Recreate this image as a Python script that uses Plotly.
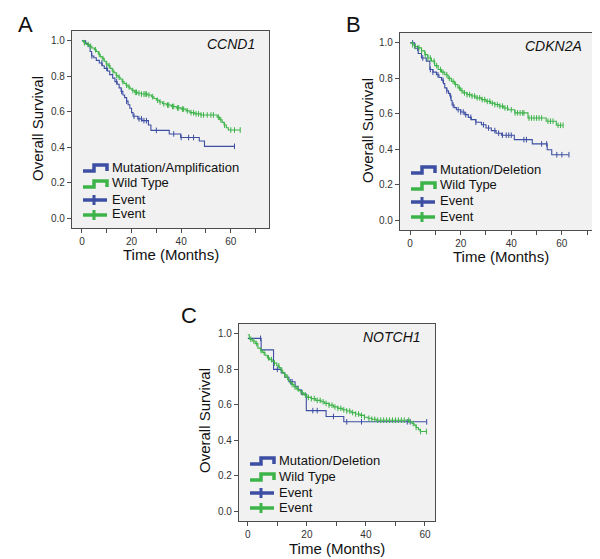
import plotly.graph_objects as go

# ---------------- DATA ----------------
# Panel A: CCND1
a_mut_t = [0, 1.5, 2.5, 3.3, 3.9, 4.8, 5.8, 7.0, 8.2, 9.0, 10.3, 11.2, 12.4, 13.3, 14.2, 15.0, 15.8, 16.5,
           17.2, 18.0, 18.6, 19.3, 20.0, 20.6, 22.5, 24.2, 26.8, 27.8, 35.2, 39.8, 47.3, 49.4, 61.5]
a_mut_s = [1.0, 0.985, 0.97, 0.94, 0.915, 0.905, 0.89, 0.875, 0.86, 0.845, 0.83, 0.81, 0.79, 0.77, 0.755, 0.735,
           0.715, 0.695, 0.68, 0.66, 0.64, 0.62, 0.595, 0.575, 0.56, 0.55, 0.525, 0.495, 0.475, 0.455, 0.435, 0.405, 0.405]
a_mut_cens = [4, 8, 10, 14, 16, 18, 21, 23, 24, 25, 26, 30, 37, 40, 43, 45, 61.5]
a_wt_t = [0, 0.8, 1.8, 3.0, 4.0, 5.0, 5.8, 6.6, 7.4, 8.2, 9.0, 9.8, 10.6, 11.4, 12.2, 13.0, 13.8, 14.6, 15.4,
          16.2, 17.0, 17.8, 18.6, 19.4, 20.2, 21.2, 22.5, 24.0, 26.5, 28.0, 29.0, 30.0, 31.2, 32.5, 34.0, 36.0,
          38.0, 40.0, 42.0, 43.5, 45.5, 48.0, 54.5, 55.5, 56.5, 57.3, 58.2, 59.0, 63.8]
a_wt_s = [1.0, 0.99, 0.98, 0.97, 0.96, 0.95, 0.94, 0.925, 0.91, 0.9, 0.885, 0.87, 0.86, 0.845, 0.83, 0.82, 0.805,
          0.795, 0.785, 0.77, 0.76, 0.75, 0.74, 0.73, 0.72, 0.71, 0.705, 0.7, 0.695, 0.685, 0.675, 0.665, 0.655,
          0.645, 0.638, 0.63, 0.622, 0.615, 0.605, 0.595, 0.588, 0.582, 0.57, 0.555, 0.54, 0.525, 0.51, 0.497, 0.497]
a_wt_cens = [1, 2.5, 3.5, 5.5, 7, 8.5, 10, 11, 12.5, 14, 15, 16.5, 18, 19, 20.5, 21.5, 22, 23, 24, 25, 25.5, 26,
             27, 28.5, 30.5, 31.5, 33, 34.5, 35, 36.5, 37, 38.5, 39, 40.5, 41, 42.5, 44, 45, 46, 47, 48, 49, 50.5,
             52, 53, 55, 56, 57.5, 60, 61.5, 63.8]

# Panel B: CDKN2A
b_mut_t = [0, 1.8, 3.2, 4.5, 6.4, 7.8, 9.0, 10.4, 11.4, 12.4, 13.2, 13.7, 14.5, 15.2, 15.7, 16.2, 16.6, 17.4,
           18.3, 20.0, 21.6, 23.0, 24.2, 26.0, 28.2, 30.0, 32.1, 34.0, 36.1, 41.2, 48.3, 54.2, 56.0, 62.8]
b_mut_s = [1.0, 0.97, 0.94, 0.915, 0.897, 0.85, 0.835, 0.82, 0.805, 0.79, 0.77, 0.746, 0.73, 0.715, 0.70, 0.675,
           0.65, 0.635, 0.623, 0.61, 0.595, 0.58, 0.567, 0.552, 0.538, 0.52, 0.505, 0.49, 0.479, 0.454, 0.43, 0.397,
           0.369, 0.369]
b_mut_cens = [1, 3, 5, 8, 9, 11, 13, 14.5, 16, 17, 19, 20, 21, 22, 24, 26, 29, 31, 33.5, 35, 36.5, 38, 39, 40,
              45, 46, 52, 54, 58, 60, 62.8]
b_wt_t = [0, 1.0, 2.0, 3.2, 4.5, 5.8, 7.0, 8.4, 9.7, 11.1, 12.4, 13.7, 15.0, 16.3, 17.6, 18.9, 20.0, 20.9, 22.5,
          24.2, 26.0, 28.2, 30.0, 31.8, 33.5, 35.2, 37.0, 38.7, 41.4, 46.6, 53.8, 57.8, 60.5]
b_wt_s = [1.0, 0.99, 0.98, 0.972, 0.955, 0.934, 0.915, 0.897, 0.872, 0.85, 0.835, 0.82, 0.8, 0.783, 0.765, 0.746,
          0.73, 0.718, 0.708, 0.70, 0.69, 0.68, 0.67, 0.66, 0.652, 0.643, 0.633, 0.623, 0.605, 0.576, 0.558, 0.535,
          0.535]
b_wt_cens = [1, 2, 3.5, 4.5, 6, 7, 8, 9.5, 10.5, 12, 13, 14.5, 15.5, 17, 18, 19.5, 20.5, 21.5, 22.5, 23.5, 24.5,
             25.5, 26.5, 27.5, 28.5, 29.5, 30.5, 31.5, 32.5, 33.5, 34.5, 35.5, 36.5, 37.5, 38.5, 40, 41.5, 42.5,
             43.5, 44.5, 45, 47, 48, 49, 50, 51, 52, 54.5, 55.5, 56.5, 58.5, 59.5, 60.5]

# Panel C: NOTCH1
c_mut_t = [0, 4.5, 8.7, 11.3, 12.5, 13.9, 16.0, 17.0, 18.1, 19.8, 26.5, 32.5, 60.6]
c_mut_s = [0.975, 0.91, 0.80, 0.78, 0.755, 0.73, 0.705, 0.685, 0.66, 0.567, 0.534, 0.504, 0.504]
c_mut_cens = [4.3, 10, 14.5, 15, 22, 23.5, 29, 33.5, 38.5, 54, 55, 60.6]
c_wt_t = [0, 0.5, 1.5, 2.5, 3.4, 4.3, 5.0, 5.8, 6.6, 7.4, 8.2, 9.0, 9.8, 10.6, 11.2, 11.8, 12.4, 13.0, 13.6,
          14.2, 14.8, 15.6, 16.4, 17.2, 18.0, 19.0, 20.0, 21.5, 23.0, 24.8, 26.0, 27.5, 29.0, 30.5, 32.0, 33.5,
          35.0, 36.5, 38.0, 39.5, 40.7, 42.0, 43.5, 54.8, 55.6, 56.3, 57.0, 57.8, 58.4, 60.5]
c_wt_s = [0.995, 0.97, 0.96, 0.945, 0.92, 0.905, 0.895, 0.88, 0.865, 0.855, 0.845, 0.835, 0.82, 0.81, 0.795,
          0.78, 0.77, 0.755, 0.74, 0.725, 0.715, 0.7, 0.69, 0.68, 0.668, 0.655, 0.642, 0.635, 0.625, 0.617, 0.608,
          0.598, 0.588, 0.58, 0.572, 0.565, 0.556, 0.548, 0.54, 0.53, 0.524, 0.518, 0.513, 0.505, 0.494, 0.485,
          0.472, 0.46, 0.449, 0.449]
c_wt_cens = [1, 2, 3, 4.5, 5.5, 7, 8, 9, 10.5, 11.5, 12.5, 13.5, 15, 16, 17, 18.5, 19.5, 20.5, 21.5, 22.5, 23.5,
             24.5, 25.5, 26.5, 27.5, 28.5, 29.5, 30.5, 31.5, 32.5, 33.5, 34.5, 35.5, 36.5, 37.5, 38.5, 39.5, 41,
             42, 43, 44, 45, 46, 47, 48, 49, 50, 51, 52, 53, 54.5, 56, 57, 58.5, 60.5]

panel_letters = ["A", "B", "C"]
gene_names = ["CCND1", "CDKN2A", "NOTCH1"]
mut_labels = ["Mutation/Amplification", "Mutation/Deletion", "Mutation/Deletion"]
wt_label = "Wild Type"
event_label = "Event"
y_tick_vals = [0.0, 0.2, 0.4, 0.6, 0.8, 1.0]
y_tick_text = ["0.0", "0.2", "0.4", "0.6", "0.8", "1.0"]
x_title = "Time (Months)"
y_title = "Overall Survival"

# ---------------- STYLE / LAYOUT ----------------
W, H = 600, 559
BLUE = "#3d4fa3"
GREEN = "#3db449"
FONT = "Liberation Sans, Arial, sans-serif"

# plot boxes in pixels: (left, top, right, bottom), x range
boxes = [
    dict(l=64, t=23, r=261, b=220, xr=[-4.0, 75.4], xticks=[0, 10, 20, 30, 40, 50, 60, 70]),
    dict(l=392, t=25, r=588, b=222, xr=[-4.0, 73.5], xticks=[0, 10, 20, 30, 40, 50, 60, 70]),
    dict(l=231, t=316, r=427, b=513, xr=[-3.0, 63.4], xticks=[0, 10, 20, 30, 40, 50, 60]),
]
letter_pos = [(17, 17), (345, 17), (181, 307)]
ytitle_pos = [(30, 121), (359, 123), (196, 413)]
xtitle_pos = [(163, 246), (493, 249), (329, 540)]

def px(x):
    return x / W

def py(y):
    return 1 - y / H

def surv_at(ts, ss, c):
    val = ss[0]
    for t, s in zip(ts, ss):
        if t <= c:
            val = s
    return val

panels = [
    (a_mut_t, a_mut_s, a_mut_cens, a_wt_t, a_wt_s, a_wt_cens),
    (b_mut_t, b_mut_s, b_mut_cens, b_wt_t, b_wt_s, b_wt_cens),
    (c_mut_t, c_mut_s, c_mut_cens, c_wt_t, c_wt_s, c_wt_cens),
]

fig = go.Figure()
annotations = []
shapes = []

for i, (mt, ms, mc, wt, ws, wc) in enumerate(panels):
    bx = boxes[i]
    xa = "x" if i == 0 else f"x{i+1}"
    ya = "y" if i == 0 else f"y{i+1}"
    for (tt, ss, cc, col) in [(mt, ms, mc, BLUE), (wt, ws, wc, GREEN)]:
        fig.add_trace(go.Scatter(x=tt, y=ss, mode="lines", line=dict(color=col, width=1.1, shape="hv"),
                                 xaxis=xa, yaxis=ya, showlegend=False, hoverinfo="skip"))
        fig.add_trace(go.Scatter(x=cc, y=[surv_at(tt, ss, c) for c in cc], mode="markers",
                                 marker=dict(symbol="line-ns", size=4, line=dict(color=col, width=1)),
                                 xaxis=xa, yaxis=ya, showlegend=False, hoverinfo="skip"))
    axis_common = dict(showline=True, linecolor="#4d4d4d", linewidth=1.3, mirror=True, ticks="outside",
                       ticklen=4, tickcolor="#4d4d4d", tickwidth=1, showgrid=False, zeroline=False,
                       tickfont=dict(family=FONT, size=10, color="#333333"))
    xkey = "xaxis" if i == 0 else f"xaxis{i+1}"
    ykey = "yaxis" if i == 0 else f"yaxis{i+1}"
    fig.update_layout(**{
        xkey: dict(domain=[px(bx["l"]), px(bx["r"])], range=bx["xr"], anchor=ya,
                   tickmode="array", tickvals=bx["xticks"],
                   ticktext=[str(v) if v % 20 == 0 else "" for v in bx["xticks"]], **axis_common),
        ykey: dict(domain=[py(bx["b"]), py(bx["t"])], range=[-0.056, 1.056], anchor=xa,
                   tickmode="array", tickvals=y_tick_vals, ticktext=y_tick_text, **axis_common),
    })

    # panel letter
    lx, ly = letter_pos[i]
    annotations.append(dict(text=panel_letters[i], x=px(lx), y=py(ly), xref="paper", yref="paper",
                            showarrow=False, font=dict(family=FONT, size=22, color="#111111"),
                            xanchor="center", yanchor="middle"))
    # gene label
    annotations.append(dict(text=f"<i>{gene_names[i]}</i>", x=px(bx["r"] - 12), y=py(bx["t"] + 13),
                            xref="paper", yref="paper", showarrow=False,
                            font=dict(family=FONT, size=14, color="#111111"),
                            xanchor="right", yanchor="middle"))
    # axis titles
    tx, ty = xtitle_pos[i]
    annotations.append(dict(text=x_title, x=px(tx), y=py(ty), xref="paper", yref="paper", showarrow=False,
                            font=dict(family=FONT, size=15, color="#111111"), xanchor="center", yanchor="middle"))
    yx, yy = ytitle_pos[i]
    annotations.append(dict(text=y_title, x=px(yx), y=py(yy), xref="paper", yref="paper", showarrow=False,
                            textangle=-90, font=dict(family=FONT, size=15, color="#111111"),
                            xanchor="center", yanchor="middle"))

    # custom legend (step icons + event crosses)
    x0 = bx["l"] + 11
    x1 = bx["l"] + 35
    xm = bx["l"] + 22
    rows = [bx["t"] + 137, bx["t"] + 153, bx["t"] + 169, bx["t"] + 184]
    labels = [mut_labels[i], wt_label, event_label, event_label]
    colors = [BLUE, GREEN, BLUE, GREEN]
    for k in range(4):
        yc = rows[k]
        col = colors[k]
        if k < 2:
            path = (f"M {px(x0)} {py(yc + 3)} L {px(xm)} {py(yc + 3)} L {px(xm)} {py(yc - 3)} "
                    f"L {px(x1)} {py(yc - 3)} L {px(x1)} {py(yc + 3)}")
            shapes.append(dict(type="path", path=path, xref="paper", yref="paper",
                               line=dict(color=col, width=3.5)))
        else:
            shapes.append(dict(type="line", x0=px(x0), x1=px(x1), y0=py(yc), y1=py(yc),
                               xref="paper", yref="paper", line=dict(color=col, width=3.5)))
            shapes.append(dict(type="line", x0=px(xm), x1=px(xm), y0=py(yc - 5), y1=py(yc + 5),
                               xref="paper", yref="paper", line=dict(color=col, width=3)))
        annotations.append(dict(text=labels[k], x=px(x1 + 3), y=py(yc - 1), xref="paper", yref="paper",
                                showarrow=False, font=dict(family=FONT, size=13, color="#111111"),
                                xanchor="left", yanchor="middle"))

fig.update_layout(
    width=W, height=H,
    margin=dict(l=0, r=0, t=0, b=0),
    paper_bgcolor="white",
    plot_bgcolor="#f1f1f1",
    annotations=annotations,
    shapes=shapes,
    showlegend=False,
)

fig.write_html("out.html")
